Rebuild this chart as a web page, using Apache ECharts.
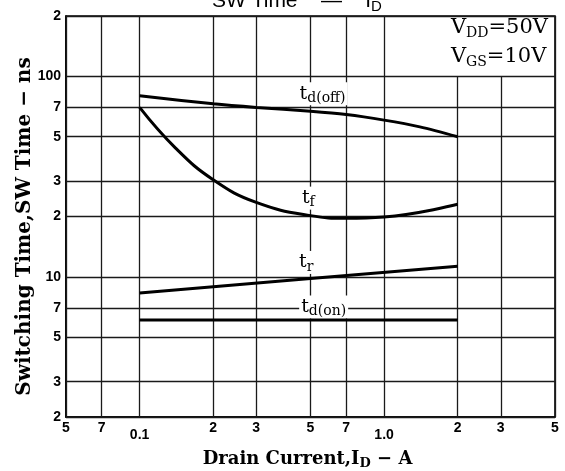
<!DOCTYPE html>
<html>
<head>
<meta charset="utf-8">
<script src="https://cdn.jsdelivr.net/npm/echarts@6/dist/echarts.min.js"></script>
<style>
html,body{margin:0;padding:0;background:#fff;}
#chart{width:565px;height:471px;}
</style>
</head>
<body>
<div id="chart"></div>
<script>
// ---- data ----
const xTicks = [0.05, 0.07, 0.1, 0.2, 0.3, 0.5, 0.7, 1, 2, 3, 5];
const xTickLabels = ['5', '7', '0.1', '2', '3', '5', '7', '1.0', '2', '3', '5'];
const yTicks = [2, 3, 5, 7, 10, 20, 30, 50, 70, 100, 200];
const yTickLabels = ['2', '3', '5', '7', '10', '2', '3', '5', '7', '100', '2'];
const legendBoxBottom = 100; // value where the condition box ends

const tdOff = [[0.1, 80], [0.2, 73], [0.3, 70], [0.5, 67], [0.7, 64.5], [1, 60.5], [1.4, 56], [2, 50]];
const tf = [[0.1, 70], [0.14, 44], [0.2, 30.5], [0.3, 23.5], [0.5, 20.2], [0.7, 19.6], [1, 19.9], [2, 23]];
const tr = [[0.1, 8.3], [0.5, 9.8], [2, 11.3]];
const tdOn = [[0.1, 6.1], [2, 6.1]];

const curveLabels = [
  { text: '{t|t}{s|d(off)}', at: [0.56, 82] },
  { text: '{t|t}{s|f}', at: [0.49, 24.7] },
  { text: '{t|t}{s|r}', at: [0.48, 11.8] },
  { text: '{t|t}{s|d(on)}', at: [0.566, 7.07] }
];

// ---- styles ----
const tickFont = { fontFamily: 'Liberation Sans', fontSize: 14, fontWeight: 'bold', color: '#000' };
const serif = 'DejaVu Serif';
const gridLine = { color: '#1a1a1a', width: 1.3, type: 'solid' };

const xMin = xTicks[0], xMax = xTicks[xTicks.length - 1];
const yMin = yTicks[0], yMax = yTicks[yTicks.length - 1];

const gridLinesData = [];
xTicks.forEach((v, i) => {
  const lab = xTickLabels[i];
  const label = Object.assign({ formatter: lab, distance: lab.indexOf('.') >= 0 ? 11 : 4 }, tickFont);
  if (v > 1 && v < xMax) {
    gridLinesData.push([{ coord: [v, yMin], label: label }, { coord: [v, legendBoxBottom] }]);
  } else {
    gridLinesData.push({ xAxis: v, label: label });
  }
});
yTicks.forEach((v, i) => {
  gridLinesData.push({ yAxis: v, label: Object.assign({ formatter: yTickLabels[i], distance: 5 }, tickFont) });
});

const curve = (name, data, smooth) => ({
  name: name, type: 'line', data: data, smooth: smooth, symbol: 'none', z: 5,
  lineStyle: { color: '#000', width: 3 }, animation: false, silent: true
});

const chart = echarts.init(document.getElementById('chart'));
chart.setOption({
  animation: false,
  backgroundColor: '#fff',
  title: {
    text: '{a|SW Time    —    I}{s|D}',
    left: 207, top: -16,
    textStyle: {
      rich: {
        a: { fontFamily: 'Liberation Sans', fontSize: 21, fontWeight: 'normal', color: '#000' },
        s: { fontFamily: 'Liberation Sans', fontSize: 15, fontWeight: 'normal', color: '#000', padding: [10, 0, 0, 0] }
      }
    }
  },
  graphic: [{
    type: 'text', right: 17, top: 16, z: 10,
    style: {
      text: '{v|V}{s|DD}{v|=50V}\n{v|V}{s|GS}{v|=10V}',
      align: 'right',
      rich: {
        v: { fontFamily: serif, fontSize: 21, color: '#000', lineHeight: 29 },
        s: { fontFamily: serif, fontSize: 14, color: '#000', padding: [10, 0, 0, 0], lineHeight: 29 }
      }
    }
  }],
  grid: { left: 66, top: 16, right: 10, bottom: 54, show: true, borderColor: '#000', borderWidth: 1.6, containLabel: false, outerBoundsMode: 'none' },
  xAxis: {
    type: 'log', logBase: 10, min: xMin, max: xMax,
    axisLabel: { show: false }, axisTick: { show: false }, splitLine: { show: false }, minorSplitLine: { show: false },
    axisLine: { show: true, lineStyle: { color: '#000', width: 1.6 } },
    name: '{a|Drain Current,I}{s|D}{a| − A}', nameLocation: 'middle', nameGap: 31,
    nameTextStyle: {
      padding: [0, 6, 0, 0],
      rich: {
        a: { fontFamily: serif, fontSize: 18, fontWeight: 'bold', color: '#000' },
        s: { fontFamily: serif, fontSize: 13, fontWeight: 'bold', color: '#000', padding: [9, 0, 0, 0] }
      }
    }
  },
  yAxis: {
    type: 'log', logBase: 10, min: yMin, max: yMax,
    axisLabel: { show: false }, axisTick: { show: false }, splitLine: { show: false }, minorSplitLine: { show: false },
    axisLine: { show: true, lineStyle: { color: '#000', width: 1.6 } },
    name: 'Switching Time,SW Time − ns', nameLocation: 'middle', nameGap: 31,
    nameTextStyle: { fontFamily: serif, fontSize: 20, fontWeight: 'bold', color: '#000', padding: [0, 20, 0, 0] }
  },
  series: [
    {
      name: 'grid', type: 'line', data: [], z: 1, silent: true, animation: false,
      markLine: {
        silent: true, animation: false, symbol: ['none', 'none'], precision: 4,
        lineStyle: gridLine,
        label: Object.assign({ show: true, position: 'start' }, tickFont),
        data: gridLinesData
      }
    },
    curve('td(off)', tdOff, 0.3),
    curve('tf', tf, 0.45),
    curve('tr', tr, false),
    curve('td(on)', tdOn, false),
    {
      name: 'labels', type: 'line', data: [], z: 8, silent: true, animation: false,
      markPoint: {
        silent: true, animation: false, symbol: 'rect', symbolSize: 1,
        itemStyle: { color: 'rgba(0,0,0,0)' },
        label: {
          show: true, position: 'inside', backgroundColor: '#fff', padding: [0, 2, 0, 2],
          rich: {
            t: { fontFamily: serif, fontSize: 19, color: '#000' },
            s: { fontFamily: serif, fontSize: 14, color: '#000', padding: [9, 0, 0, 0] }
          }
        },
        data: curveLabels.map(c => ({ coord: c.at, label: { formatter: c.text } }))
      }
    }
  ]
});
</script>
</body>
</html>
